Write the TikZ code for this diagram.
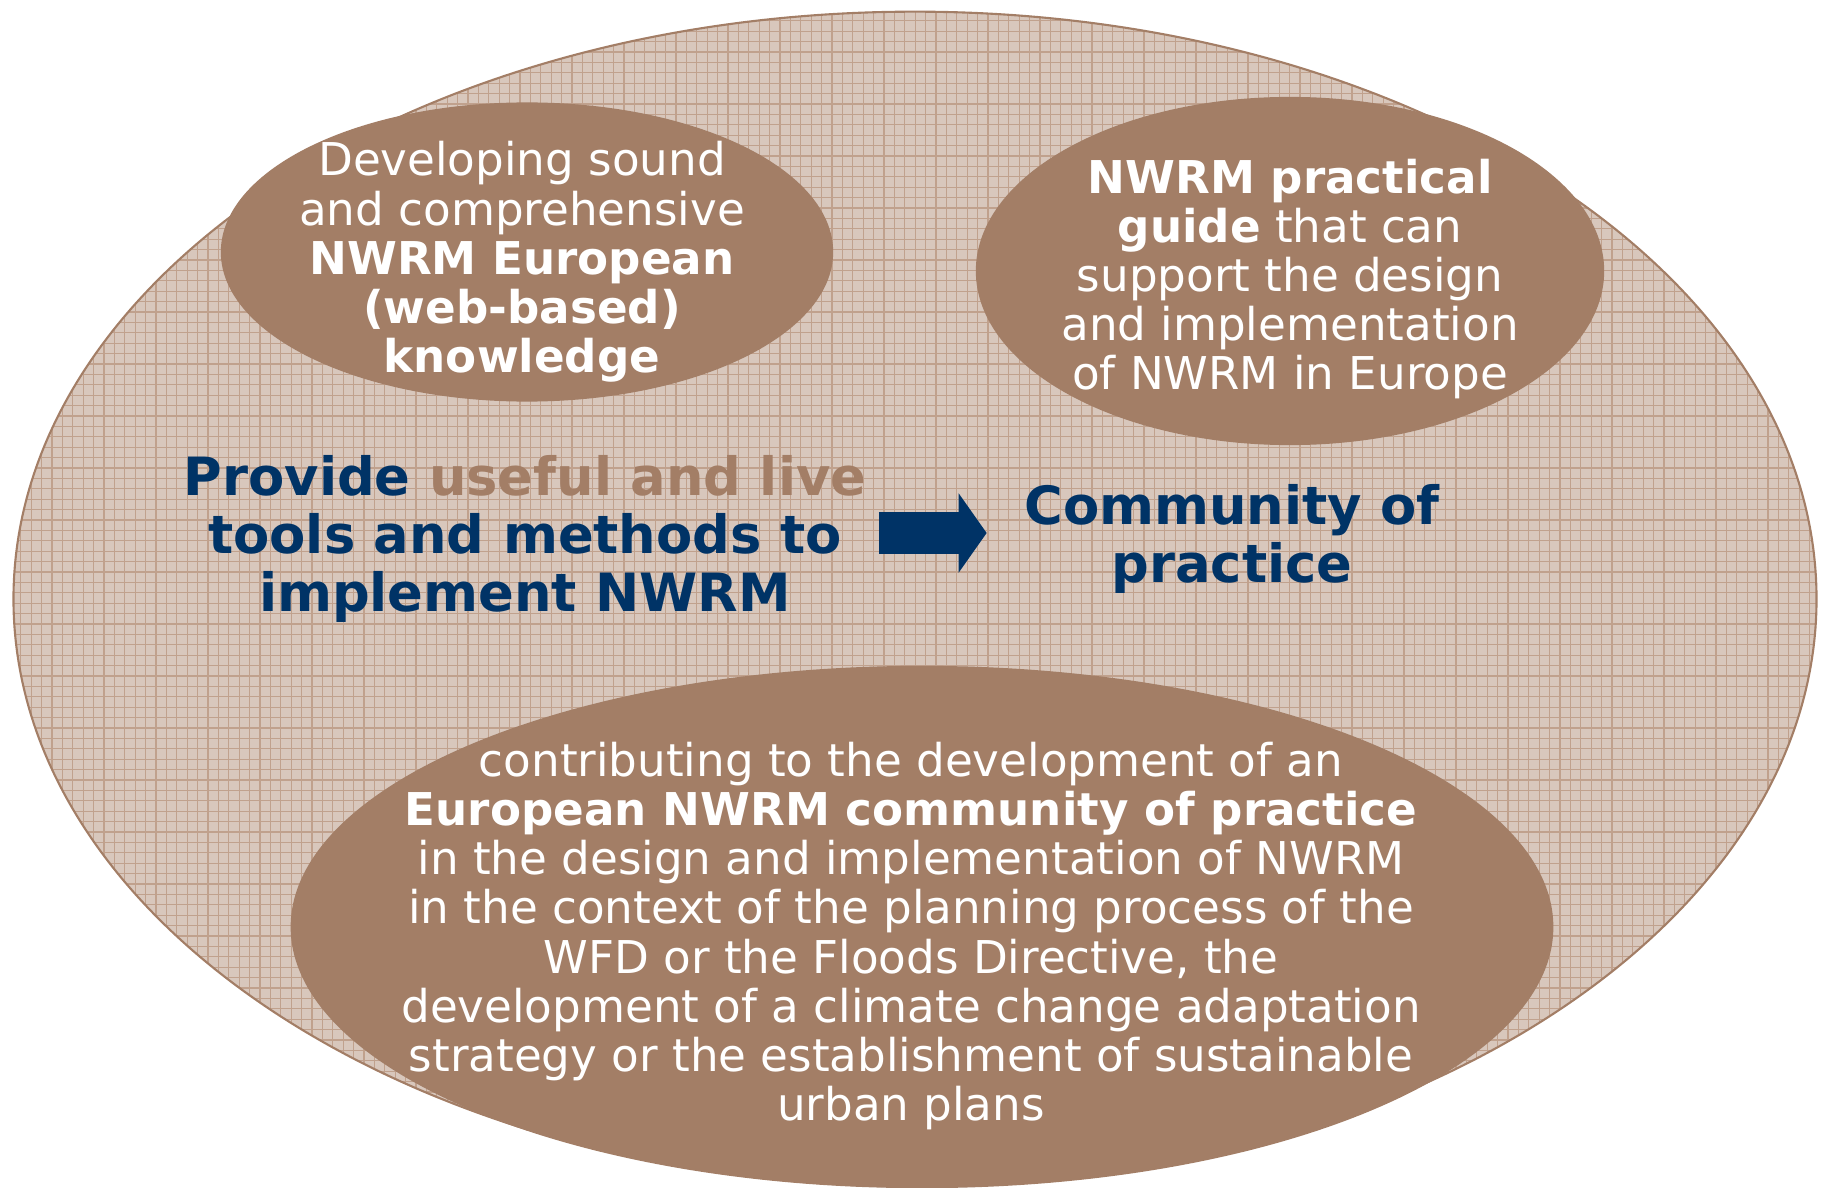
\documentclass[tikz,border=0pt]{standalone}
\usepackage{fontspec}
\setmainfont{DejaVu Sans}
\usepackage{tikz}
\usetikzlibrary{arrows.meta,shapes.geometric}
\definecolor{nwbrown}{RGB}{163,126,102}
\definecolor{nwpale}{RGB}{216,199,188}
\definecolor{nwgrid}{RGB}{192,161,141}
\definecolor{nwnavy}{RGB}{0,51,102}

\begin{document}
\begin{tikzpicture}[x=0.01cm, y=-0.01cm]

\tikzstyle{blob}=[ellipse, fill=nwbrown, inner sep=0pt]
\tikzstyle{wtext}=[text=white, align=center, inner sep=0pt, font=\fontsize{12.85}{14}\selectfont]
\tikzstyle{btext}=[text=nwnavy, align=center, inner sep=0pt, font=\fontsize{15}{16.6}\selectfont\bfseries]
\tikzstyle{fat}=[line width=0.41cm, draw=nwnavy, -{Triangle[length=0.28cm, width=0.78cm]}, shorten <=0.12cm, shorten >=0.37cm]

\useasboundingbox (0,0) rectangle (1827,1188);

% outer field with the grid paper
\begin{scope}
\clip (915,599) ellipse [x radius=9.01cm, y radius=5.87cm];
\fill [nwpale] (0,0) rectangle (1827,1188);
\foreach \g in {0,10.4,...,1827} \draw [nwgrid, line width=0.3pt] (\g,0) -- (\g,1188);
\foreach \g in {0,10.4,...,1188} \draw [nwgrid, line width=0.3pt] (0,\g) -- (1827,\g);
\end{scope}
\draw [nwbrown, line width=0.6pt] (915,599) ellipse [x radius=9.01cm, y radius=5.87cm];

\node (webE) [blob, minimum width=6.12cm, minimum height=2.99cm] at (527,252) {};
\node (guideE) [blob, minimum width=6.28cm, minimum height=3.48cm] at (1290,271) {};
\node (cpE) [blob, minimum width=12.62cm, minimum height=5.22cm] at (922,927) {};

\node (web) [wtext] at (522,262) {Developing sound\\and comprehensive\\\textbf{NWRM European}\\\textbf{(web-based)}\\\textbf{knowledge}};

\node (guide) [wtext] at (1290,279) {\textbf{NWRM practical}\\\textbf{guide} that can\\support the design\\and implementation\\of NWRM in Europe};

\node (tools) [btext] at (525,539) {Provide \textcolor{nwbrown}{useful and live}\\tools and methods to\\implement NWRM};

\node (cop) [btext] at (1232,539) {Community of\\practice};

\node (cp) [wtext] at (911,936) {contributing to the development of an\\\textbf{European NWRM community of practice}\\in the design and implementation of NWRM\\in the context of the planning process of the\\WFD or the Floods Directive, the\\development of a climate change adaptation\\strategy or the establishment of sustainable\\urban plans};

\draw [fat] ([yshift=0.06cm]tools.east) -- ([yshift=0.06cm]cop.west);

\end{tikzpicture}
\end{document}
